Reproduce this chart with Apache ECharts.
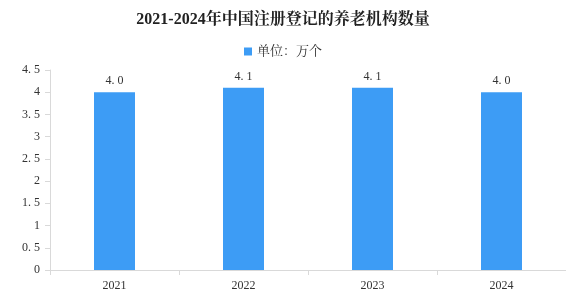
<!DOCTYPE html>
<html><head><meta charset="utf-8">
<script src="https://cdn.jsdelivr.net/npm/echarts@6/dist/echarts.min.js"></script>
<style>html,body{margin:0;padding:0;background:#fff}#c{width:566px;height:300px}</style>
</head><body><div id="c"></div>
<script>
const categories = ['2021', '2022', '2023', '2024'];
const values = [4.0, 4.1, 4.1, 4.0];
const seriesName = '单位：万个';
const titleText = '2021-2024年中国注册登记的养老机构数量';

const chart = echarts.init(document.getElementById('c'));
const font = '"Liberation Serif","Noto Serif CJK SC","Noto Sans CJK SC",serif';
chart.setOption({
  animation: false,
  title: { text: titleText, left: 'center', top: 7,
    textStyle: { fontSize: 16, fontWeight: 'bold', color: '#222', fontFamily: font } },
  legend: { data: [seriesName], top: 40, left: 'center', itemWidth: 8, itemHeight: 8, icon: 'rect', itemGap: 6,
    textStyle: { fontSize: 13, color: '#333', fontFamily: font } },
  grid: { left: 50, right: 0, top: 70, bottom: 30, containLabel: false },
  xAxis: { type: 'category', data: categories,
    axisLine: { lineStyle: { color: '#d9d9d9' } },
    axisTick: { show: true, lineStyle: { color: '#d9d9d9' } },
    axisLabel: { color: '#333', fontSize: 12, fontFamily: font, margin: 10 } },
  yAxis: { type: 'value', min: 0, max: 4.5, interval: 0.5,
    axisLine: { show: true, lineStyle: { color: '#d9d9d9' } },
    axisTick: { show: true, lineStyle: { color: '#d9d9d9' } },
    splitLine: { show: false },
    axisLabel: { color: '#333', fontSize: 12, fontFamily: font, margin: 10,
      formatter: v => String(v).replace('.', '. ') } },
  series: [{ name: seriesName, type: 'bar', data: values, barWidth: 41,
    itemStyle: { color: '#3d9cf5' },
    label: { show: true, position: 'top', color: '#333', fontSize: 12, fontFamily: font,
      formatter: p => p.value.toFixed(1).replace('.', '. ') } }]
});
</script></body></html>
